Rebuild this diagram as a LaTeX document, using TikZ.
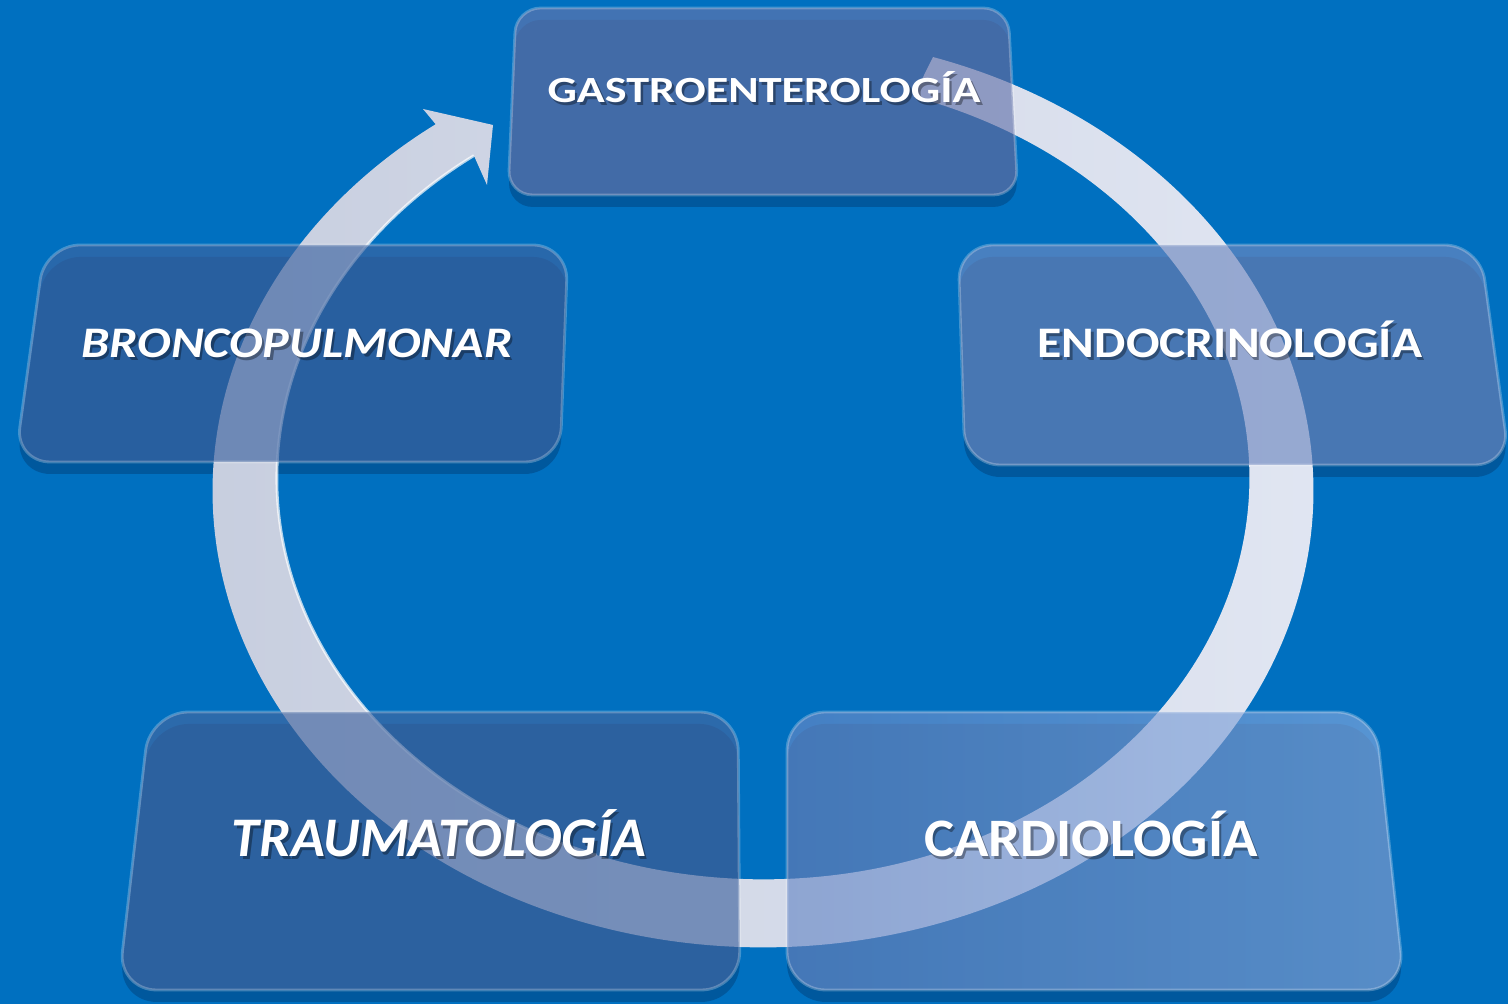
\documentclass[tikz,border=0pt]{standalone}
\usepackage{fontspec}
\setmainfont{Carlito}

\definecolor{fondo}{RGB}{0,112,192}
\definecolor{sombraazul}{RGB}{0,80,146}
\definecolor{anilloizq}{RGB}{198,205,222}
\definecolor{anilloder}{RGB}{226,231,243}
\definecolor{cgastro}{RGB}{102,118,173}
\definecolor{cbronco}{RGB}{62,100,161}
\definecolor{cendo}{RGB}{111,137,192}
\definecolor{ctrauma}{RGB}{68,103,161}
\definecolor{ccardioizq}{RGB}{105,137,198}
\definecolor{ccardioder}{RGB}{135,170,223}

\tikzset{
	caja/.style={fill opacity=0.65, draw=white, draw opacity=0.25, line width=0.8pt},
	sombra/.style={fill=sombraazul, fill opacity=0.75, yshift=-3.4pt},
	rotulo/.style={text=white, anchor=base, inner sep=0pt},
	rotulosombra/.style={rotulo, text=black, text opacity=0.35, xshift=0.7pt, yshift=-0.7pt}
}

% contornos de las cajas (coordenadas en pixeles)
\newcommand\formagastro{[rounded corners=7pt] (516,-8) -- (1008,-8) -- (1018,-195) -- (508,-195) -- cycle}
\newcommand\formabronco{[rounded corners=10pt] (45,-245) -- (568,-245) -- (560,-462) -- (15,-462) -- cycle}
\newcommand\formaendo{[rounded corners=10pt] (958,-245) -- (1480,-245) -- (1510,-465) -- (965,-465) -- cycle}
\newcommand\formatrauma{[rounded corners=11pt] (150,-712) -- (738,-712) -- (740,-990) -- (118,-990) -- cycle}
\newcommand\formacardio{[rounded corners=11pt] (787,-712) -- (1375,-712) -- (1405,-990) -- (787,-990) -- cycle}

\begin{document}
\begin{tikzpicture}[x=0.01cm, y=0.01cm]
	
	% Fondo
	\fill[fondo] (0,0) rectangle (1508,-1004);
	\useasboundingbox (0,0) rectangle (1508,-1004);
	\clip (0,0) rectangle (1508,-1004);
	
	% Sombras de las cajas
	\foreach \f in {\formagastro, \formabronco, \formaendo, \formatrauma, \formacardio} {
		\fill[sombra] \f;
	}
	
	% Flecha circular
	\shade[left color=anilloizq, right color=anilloder]
	(763,-491) ++(72:5.5cm and 4.56cm)
	arc[start angle=72, end angle=-233.5, x radius=5.5cm, y radius=4.56cm]
	-- (423,-109) -- (493,-125) -- (487,-185) -- (473.9,-155.6)
	arc[start angle=126.5, end angle=432, x radius=4.86cm, y radius=4.01cm]
	-- cycle;
	% brillo del borde interior
	\draw[white, opacity=0.7, line width=0.8pt] (473.9,-155.6)
	arc[start angle=126.5, end angle=250, x radius=4.86cm, y radius=4.01cm];
	
	% Cajas
	\fill[caja, fill=cgastro] \formagastro;
	\fill[caja, fill=cbronco] \formabronco;
	\fill[caja, fill=cendo] \formaendo;
	\fill[caja, fill=ctrauma] \formatrauma;
	\shade[caja, left color=ccardioizq, right color=ccardioder] \formacardio;
	
	% Textos
	\foreach \n/\p/\t/\s/\fs/\xs in {
		gastro/{764,-103}/{GASTROENTEROLOGÍA}/\upshape/10.5/1.25,
		bronco/{297,-358}/{BRONCOPULMONAR}/\itshape/12.4/1.15,
		endo/{1230,-358}/{ENDOCRINOLOGÍA}/\upshape/12.4/1.14,
		trauma/{439,-857}/{TRAUMATOLOGÍA}/\itshape/15.9/1.0,
		cardio/{1091,-857}/{CARDIOLOGÍA}/\upshape/15.4/1.05} {
		\node[rotulosombra, xscale=\xs, font=\bfseries\s\fontsize{\fs}{\fs}\selectfont] (\n-s) at (\p) {\t};
		\node[rotulo, xscale=\xs, font=\bfseries\s\fontsize{\fs}{\fs}\selectfont] (\n) at (\p) {\t};
	}
	
\end{tikzpicture}
\end{document}
